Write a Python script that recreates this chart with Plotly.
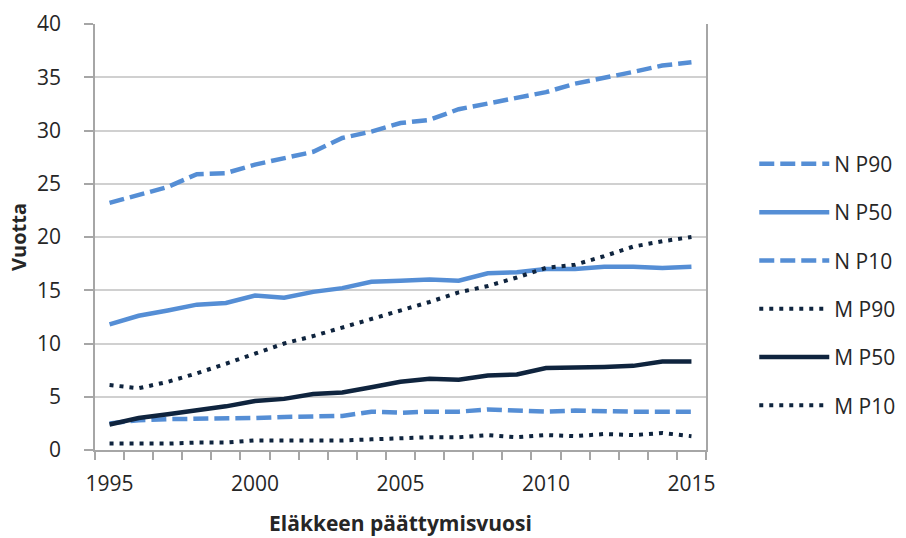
import plotly.graph_objects as go

years = list(range(1995, 2016))
n_p90 = [23.2, 23.9, 24.7, 25.9, 26.0, 26.8, 27.4, 28.0, 29.3, 29.9, 30.7, 31.0, 32.0, 32.5, 33.1, 33.6, 34.4, 34.9, 35.5, 36.1, 36.4]
n_p50 = [11.8, 12.6, 13.1, 13.65, 13.8, 14.5, 14.3, 14.85, 15.2, 15.8, 15.9, 16.0, 15.9, 16.6, 16.7, 17.0, 17.0, 17.2, 17.2, 17.1, 17.2]
n_p10 = [2.5, 2.8, 2.9, 2.9, 3.0, 3.0, 3.1, 3.2, 3.2, 3.6, 3.5, 3.6, 3.6, 3.8, 3.7, 3.6, 3.7, 3.6, 3.6, 3.6, 3.6]
m_p90 = [6.1, 5.8, 6.4, 7.2, 8.1, 9.1, 10.0, 10.7, 11.5, 12.3, 13.1, 13.9, 14.8, 15.4, 16.2, 17.1, 17.4, 18.2, 19.1, 19.6, 20.0]
m_p50 = [2.4, 3.0, 3.35, 3.7, 4.1, 4.6, 4.8, 5.25, 5.4, 5.9, 6.4, 6.7, 6.6, 7.0, 7.1, 7.7, 7.7, 7.8, 7.9, 8.3, 8.3]
m_p10 = [0.6, 0.6, 0.6, 0.7, 0.7, 0.9, 0.9, 0.9, 0.9, 1.0, 1.1, 1.2, 1.2, 1.4, 1.2, 1.4, 1.3, 1.5, 1.4, 1.6, 1.3]

series_names = ["N P90", "N P50", "N P10", "M P90", "M P50", "M P10"]
series_vals = [n_p90, n_p50, n_p10, m_p90, m_p50, m_p10]
x_tick_vals = [1995, 2000, 2005, 2010, 2015]
y_tick_vals = [0, 5, 10, 15, 20, 25, 30, 35, 40]

LIGHT = "#558ED5"
DARK = "#0F243E"
styles = [
    dict(color=LIGHT, width=4.5, dash="15px,6px"),
    dict(color=LIGHT, width=4.5, dash="solid"),
    dict(color=LIGHT, width=4.5, dash="15px,6px"),
    dict(color=DARK, width=4, dash="4px,6px"),
    dict(color=DARK, width=4.5, dash="solid"),
    dict(color=DARK, width=4, dash="4px,6px"),
]

FONT = "'Open Sans', sans-serif"
TXT = "#262626"

fig = go.Figure()
for name, vals, st in zip(series_names, series_vals, styles):
    fig.add_trace(go.Scatter(
        x=years, y=vals, mode="lines", name=name, line=st,
        legendgroup=name,
    ))

fig.update_layout(
    width=906, height=538,
    margin=dict(l=95, r=200, t=24, b=88, autoexpand=False),
    plot_bgcolor="white", paper_bgcolor="white",
    font=dict(family=FONT, size=21, color=TXT),
    showlegend=True,
    legend=dict(
        x=1.079, xanchor="left", y=0.719, yanchor="top",
        font=dict(size=21, color=TXT),
        tracegroupgap=18, itemwidth=70,
        bgcolor="rgba(0,0,0,0)",
    ),
    xaxis=dict(
        range=[1994.5, 2015.5], automargin=False,
        tickvals=x_tick_vals, ticktext=[str(v) for v in x_tick_vals],
        ticks="", showgrid=False, ticklabelstandoff=14,
        showline=True, linecolor="#A6A6A6", linewidth=1.5,
        minor=dict(ticks="outside", tick0=1994.5, dtick=1, ticklen=8,
                   tickcolor="#A6A6A6", tickwidth=1.5, showgrid=False),
        tickfont=dict(size=21, color=TXT),
        title=dict(text="<b>Eläkkeen päättymisvuosi</b>", font=dict(size=21, color=TXT), standoff=20),
        zeroline=False,
    ),
    yaxis=dict(
        range=[0, 40], tickvals=y_tick_vals, automargin=False,
        ticks="outside", ticklen=9, tickcolor="#A6A6A6", tickwidth=1.5,
        ticklabelstandoff=19,
        showgrid=True, gridcolor="#D0D0D0", gridwidth=1.5,
        showline=True, linecolor="#A6A6A6", linewidth=1.5, mirror=True,
        tickfont=dict(size=21, color=TXT),
        title=dict(text="<b>Vuotta</b>", font=dict(size=20, color=TXT), standoff=5),
        zeroline=False,
    ),
)

fig.write_html(
    "out.html",
    config={"displayModeBar": False},
    post_script="document.body.style.margin='0px';document.body.style.overflow='hidden';",
)
